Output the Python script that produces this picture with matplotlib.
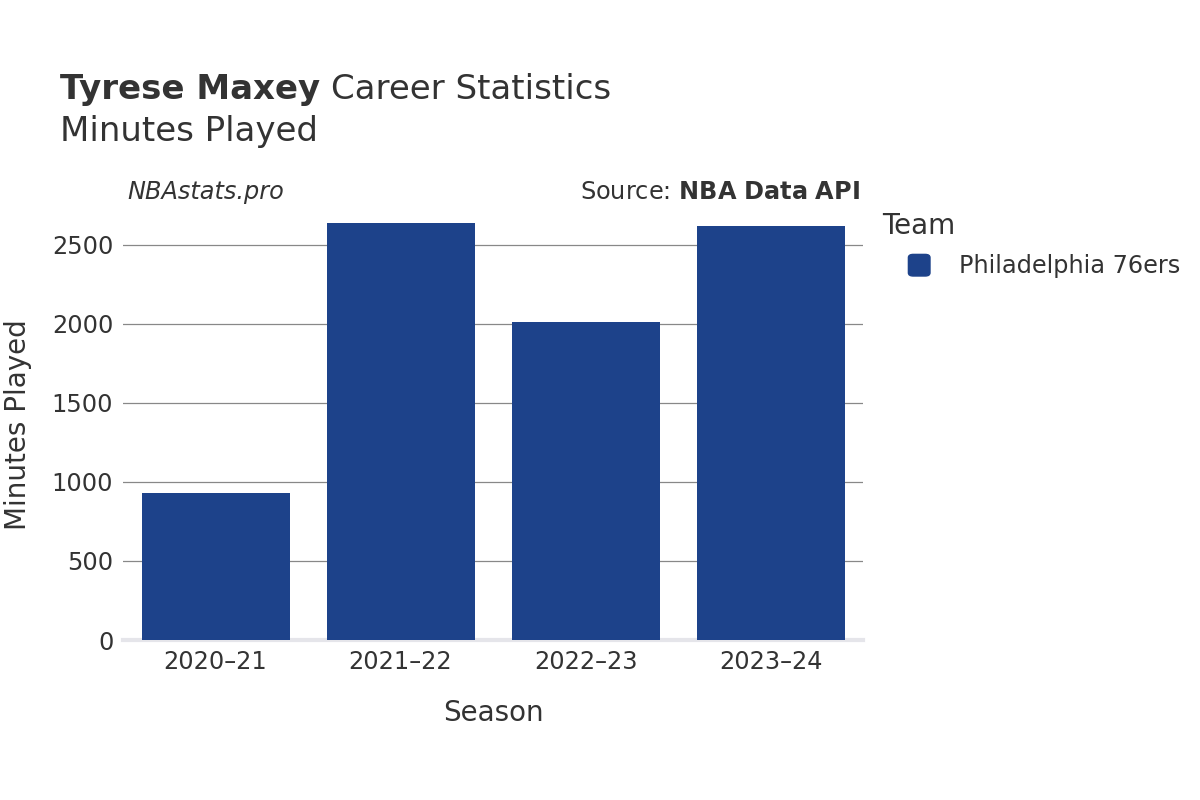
import matplotlib
matplotlib.use("Agg")
import matplotlib.pyplot as plt
from matplotlib.patches import FancyBboxPatch

seasons = ["2020–21", "2021–22", "2022–23", "2023–24"]
minutes = [932, 2640, 2010, 2618]
team = "Philadelphia 76ers"
color = "#1d428a"
txt = "#333333"

fig = plt.figure(figsize=(12, 8), dpi=100)
ax = fig.add_axes([0.1025, 0.2, 0.6167, 0.5375])
ax.bar(range(len(seasons)), minutes, width=0.8, color=color, zorder=3)
ax.set_xlim(-0.5, 3.5)
ax.set_ylim(0, 2721)
ax.set_yticks([0, 500, 1000, 1500, 2000, 2500])
ax.set_xticks(range(len(seasons)))
ax.set_xticklabels(seasons)
ax.tick_params(axis="both", length=0, labelsize=17.3, colors=txt, pad=7)
ax.grid(axis="y", color="#888888", linewidth=0.9, zorder=0)
for s in ["top", "right", "left"]:
    ax.spines[s].set_visible(False)
ax.spines["bottom"].set_color("#e5e5ea")
ax.spines["bottom"].set_linewidth(3)
ax.set_xlabel("Season", fontsize=20, color=txt, labelpad=18)
ax.set_ylabel("Minutes Played", fontsize=20, color=txt, labelpad=14)

t1 = fig.text(0.05, 0.888, "Tyrese Maxey", fontsize=24.5, fontweight="bold", color=txt, va="center")
fig.canvas.draw()
bb = t1.get_window_extent().transformed(fig.transFigure.inverted())
fig.text(bb.x1 + 0.009, 0.888, "Career Statistics", fontsize=24.5, color=txt, va="center")
fig.text(0.05, 0.835, "Minutes Played", fontsize=24.5, color=txt, va="center")
fig.text(0.106, 0.76, "NBAstats.pro", fontsize=17.3, style="italic", color=txt, va="center")
fig.text(0.717, 0.76, "Source: $\\bf{NBA\\ Data\\ API}$", fontsize=17.3, color=txt, va="center", ha="right")

fig.text(0.735, 0.717, "Team", fontsize=20, color=txt, va="center")
fig.patches.append(FancyBboxPatch((0.757, 0.655), 0.018, 0.027, boxstyle="round,pad=0,rounding_size=0.004",
                                  transform=fig.transFigure, color=color))
fig.text(0.799, 0.667, team, fontsize=17.3, color=txt, va="center")

fig.savefig("out.png")
